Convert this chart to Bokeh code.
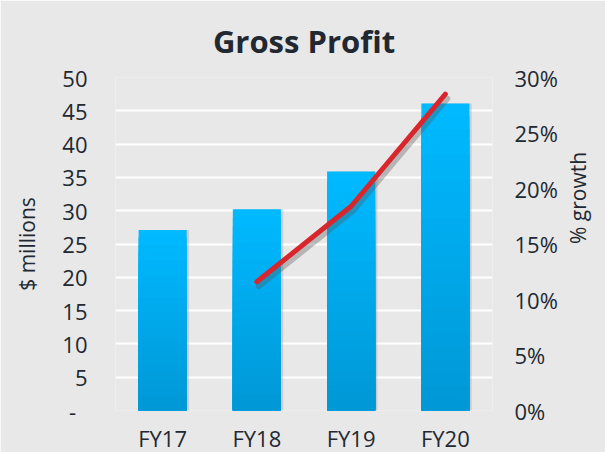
import math
from bokeh.plotting import figure
from bokeh.models import Range1d, LinearAxis, FixedTicker, NumeralTickFormatter, ColumnDataSource
from bokeh.transform import dodge
from bokeh.embed import file_html
from bokeh.resources import INLINE

title_text = "Gross Profit"
years = ["FY17", "FY18", "FY19", "FY20"]
profit = [27.1, 30.2, 35.9, 46.1]
growth_years = ["FY18", "FY19", "FY20"]
growth = [0.116, 0.184, 0.285]
left_ticks = [0, 5, 10, 15, 20, 25, 30, 35, 40, 45, 50]
right_ticks = [0, 0.05, 0.10, 0.15, 0.20, 0.25, 0.30]

FONT = "Open Sans"
TXT = "#222831"
BG = "#e8e8e8"

p = figure(x_range=years, y_range=Range1d(0, 50), frame_width=377, frame_height=333,
           output_backend="svg", toolbar_location=None,
           min_border_left=115, min_border_right=113, min_border_top=77, min_border_bottom=42,
           background_fill_color=BG, border_fill_color=BG, outline_line_color=None)
p.extra_y_ranges = {"pct": Range1d(0, 0.30)}

p.title.text = title_text
p.title.align = "center"
p.title.text_font = FONT
p.title.text_font_size = "31px"
p.title.text_font_style = "bold"
p.title.text_color = TXT
p.title.standoff = 31

# gradient bars (light top -> darker bottom) drawn as stacked overlays
N = 24
c_top = (0, 185, 255)
c_bot = (0, 152, 214)
src = ColumnDataSource(dict(x=years, top=profit))
p.vbar(x=dodge("x", 0.025, range=p.x_range), top="top", width=0.51, source=src,
       fill_color="#9a9a9a", fill_alpha=0.35, line_color=None)
for i in range(N):
    f = 1 - i / N
    t = i / (N - 1)
    col = "#%02x%02x%02x" % tuple(int(round(a + (b - a) * t)) for a, b in zip(c_top, c_bot))
    p.vbar(x=years, top=[v * f for v in profit], width=0.51, fill_color=col, line_color=None)

right = LinearAxis(y_range_name="pct")
p.add_layout(right, "right")

p.line(x=dodge("x", 0.02, range=p.x_range), y="y",
       source=ColumnDataSource(dict(x=growth_years, y=[g - 0.004 for g in growth])),
       y_range_name="pct", line_color="#555555", line_alpha=0.35, line_width=6, line_cap="round")
p.line(x=growth_years, y=growth, y_range_name="pct", line_color="#d9262c", line_width=5,
       line_cap="round", line_join="round")

p.xgrid.grid_line_color = None
p.ygrid.ticker = FixedTicker(ticks=left_ticks)
p.ygrid.grid_line_color = "white"
p.ygrid.grid_line_width = 2

left = p.yaxis[0]
left.ticker = FixedTicker(ticks=left_ticks)
left.major_label_overrides = {0: "-\u00a0\u00a0"}
left.axis_label = "$ millions"
left.major_label_standoff = 28
left.axis_label_standoff = 18

right.ticker = FixedTicker(ticks=right_ticks)
right.formatter = NumeralTickFormatter(format="0%")
right.axis_label = "% growth"
right.axis_label_orientation = math.pi / 2
right.major_label_standoff = 22
right.axis_label_standoff = 17

for ax in [left, right, p.xaxis[0]]:
    ax.axis_line_color = None
    ax.major_tick_line_color = None
    ax.minor_tick_line_color = None
    ax.major_tick_out = 0
    ax.major_tick_in = 0
    ax.minor_tick_out = 0
    ax.minor_tick_in = 0
    ax.major_label_text_font = FONT
    ax.major_label_text_font_size = "22px"
    ax.major_label_text_color = TXT
    ax.axis_label_text_font = FONT
    ax.axis_label_text_font_size = "21px"
    ax.axis_label_text_font_style = "normal"
    ax.axis_label_text_color = TXT

p.xaxis[0].major_label_standoff = 12

open("out.html", "w").write(file_html(p, INLINE))
